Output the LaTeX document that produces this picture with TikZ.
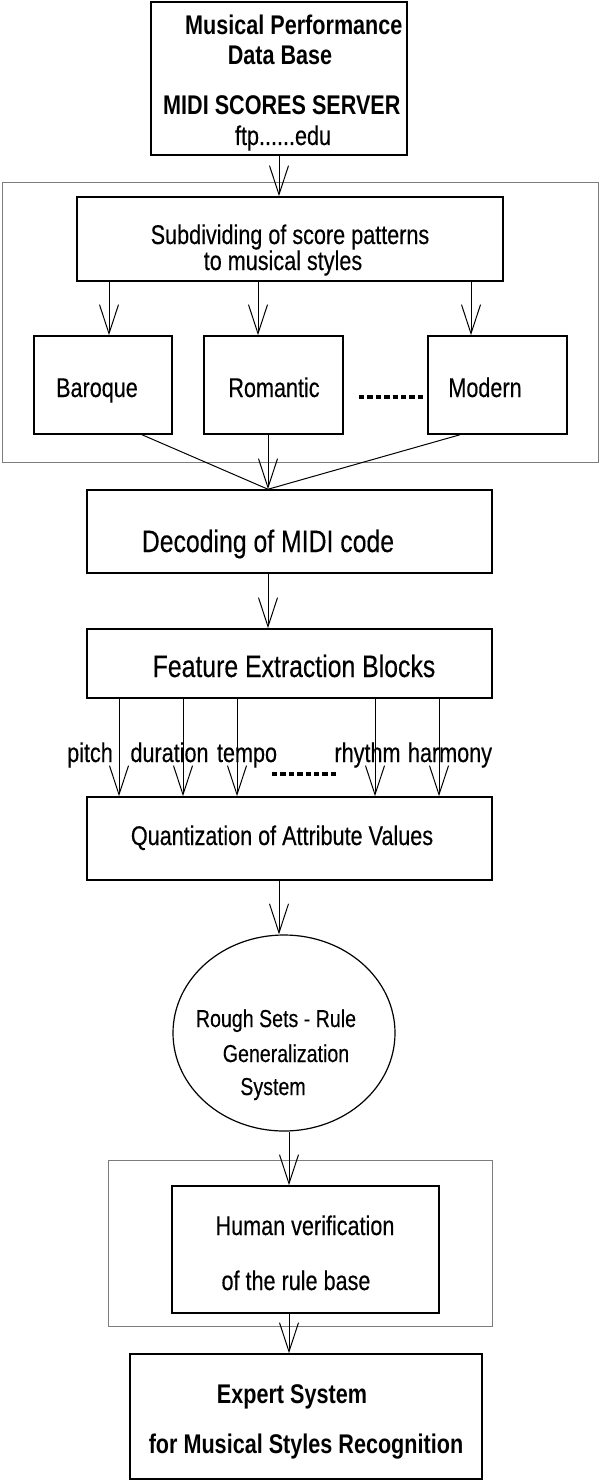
\documentclass[tikz,border=0pt]{standalone}
\usepackage{fontspec}
\setmainfont{Liberation Sans}[FakeStretch=0.8, UprightFeatures={FakeBold=0.3}]
\usetikzlibrary{arrows.meta,shapes.geometric}
\definecolor{grpgray}{RGB}{125,125,125}
\begin{document}
\begin{tikzpicture}[x=1pt,y=-1pt,
  box/.style={draw, line width=1.5pt, rectangle, inner sep=0pt},
  grp/.style={draw=grpgray, line width=1pt, rectangle, inner sep=0pt},
  oval/.style={draw, line width=1.2pt, ellipse, inner sep=0pt},
  arr/.style={line width=1pt, -{Straight Barb[length=29pt,width=19pt,line width=1pt]}},
  conn/.style={line width=1pt},
  txt/.style={anchor=base, inner sep=0pt, font=\fontsize{27}{32}\selectfont},
  bigtxt/.style={anchor=base, inner sep=0pt, font=\fontsize{31}{36}\selectfont},
  ovaltxt/.style={anchor=base, inner sep=0pt, font=\fontsize{24.5}{29}\selectfont},
  boldtxt/.style={anchor=base, inner sep=0pt, font=\fontsize{27}{32}\selectfont\bfseries},
  dots/.style={line width=4pt, dash pattern=on 5.4pt off 3pt}
]
\useasboundingbox (0,0) rectangle (600,1482);

% groups
\node[grp, minimum width=596pt, minimum height=279pt] (g1) at (300,322.5) {};
\node[grp, minimum width=384pt, minimum height=166pt] (g2) at (300,1243) {};

% boxes
\node[box, minimum width=256pt, minimum height=153pt] (top) at (279,78.5) {};
\node[box, minimum width=426pt, minimum height=84pt] (sub) at (290,239) {};
\node[box, minimum width=138pt, minimum height=98pt] (bar) at (103,385) {};
\node[box, minimum width=139pt, minimum height=98pt] (rom) at (273.5,385) {};
\node[box, minimum width=139pt, minimum height=98pt] (mod) at (497.5,385) {};
\node[box, minimum width=405pt, minimum height=83pt] (dec) at (289.5,531.5) {};
\node[box, minimum width=405pt, minimum height=69pt] (fea) at (289.5,663.5) {};
\node[box, minimum width=405pt, minimum height=83pt] (qua) at (289.5,838.5) {};
\node[oval, minimum width=222pt, minimum height=196pt] (ell) at (284,1033) {};
\node[box, minimum width=267pt, minimum height=127pt] (hum) at (305.5,1249.5) {};
\node[box, minimum width=352pt, minimum height=125pt] (exp) at (306,1416.5) {};

% texts
\node[boldtxt, anchor=base west] (t1) at (185,35) {Musical Performance};
\node[boldtxt] (t2) at (280,65) {Data Base};
\node[boldtxt, anchor=base west] (t3) at (163,115) {MIDI SCORES SERVER};
\node[txt] (t4) at (283,145) {ftp......edu};
\node[txt] (s1) at (290,244) {Subdividing of score patterns};
\node[txt] (s2) at (283,270) {to musical styles};
\node[txt] (b1) at (97,397) {Baroque};
\node[txt] (r1) at (274,397) {Romantic};
\node[txt] (m1) at (485,397) {Modern};
\node[bigtxt] (d1) at (268,552) {Decoding of MIDI code};
\node[bigtxt] (f1) at (294,677) {Feature Extraction Blocks};
\node[txt] (l1) at (90,762) {pitch};
\node[txt] (l2) at (169.5,762) {duration};
\node[txt] (l3) at (247,762) {tempo};
\node[txt] (l4) at (367.5,762) {rhythm};
\node[txt] (l5) at (450,762) {harmony};
\node[txt] (q1) at (282,845) {Quantization of Attribute Values};
\node[ovaltxt] (e1) at (276,1027) {Rough Sets - Rule};
\node[ovaltxt] (e2) at (286,1062) {Generalization};
\node[ovaltxt] (e3) at (273,1095) {System};
\node[txt] (h1) at (305,1235) {Human verification};
\node[txt] (h2) at (296,1290) {of the rule base};
\node[boldtxt] (x1) at (292,1403) {Expert System};
\node[boldtxt] (x2) at (306,1453) {for Musical Styles Recognition};

% dotted separators
\coordinate (da) at (359,397);
\coordinate (db) at (426,397);
\draw[dots] (da) -- (db);
\coordinate (dc) at (272,774);
\coordinate (dd) at (339,774);
\draw[dots] (dc) -- (dd);

% column coordinates
\coordinate (c1) at (109,0);
\coordinate (c2) at (258,0);
\coordinate (c3) at (471,0);
\coordinate (cb) at (142,0);
\coordinate (cm) at (268,0);
\coordinate (cn) at (460,0);
\coordinate (f1x) at (119,0);
\coordinate (f2x) at (183,0);
\coordinate (f3x) at (237,0);
\coordinate (f4x) at (375,0);
\coordinate (f5x) at (439,0);
\coordinate (ce1) at (279,0);
\coordinate (ce2) at (289,0);

% connectors
\draw[arr] (top.south) -- (top.south |- sub.north);
\draw[arr] (sub.south -| c1) -- (bar.north -| c1);
\draw[arr] (sub.south -| c2) -- (rom.north -| c2);
\draw[arr] (sub.south -| c3) -- (mod.north -| c3);
\draw[conn] (bar.south -| cb) -- (dec.north -| cm);
\draw[arr] (rom.south -| cm) -- (dec.north -| cm);
\draw[conn] (mod.south -| cn) -- (dec.north -| cm);
\draw[arr] (dec.south -| cm) -- (fea.north -| cm);
\draw[arr] (fea.south -| f1x) -- (qua.north -| f1x);
\draw[arr] (fea.south -| f2x) -- (qua.north -| f2x);
\draw[arr] (fea.south -| f3x) -- (qua.north -| f3x);
\draw[arr] (fea.south -| f4x) -- (qua.north -| f4x);
\draw[arr] (fea.south -| f5x) -- (qua.north -| f5x);
\draw[arr] (qua.south -| ce1) -- (ell.north -| ce1);
\draw[arr] (ell.south -| ce2) -- (hum.north -| ce2);
\draw[arr] (hum.south -| ce2) -- (exp.north -| ce2);
\end{tikzpicture}
\end{document}
